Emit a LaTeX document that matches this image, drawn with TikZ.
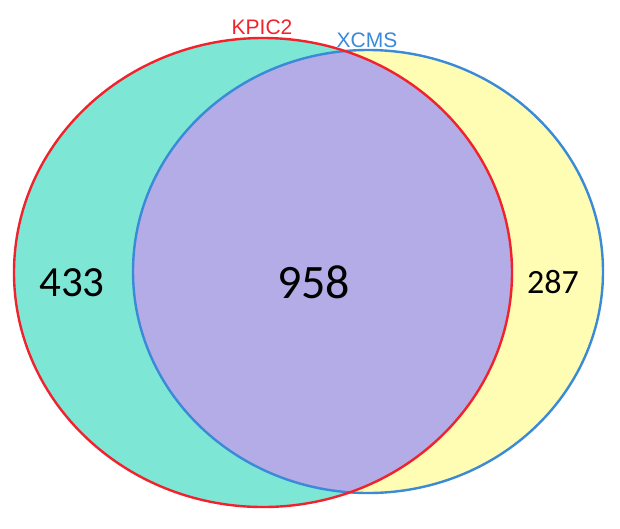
\documentclass[tikz,border=0pt]{standalone}
\usepackage{fontspec}
\setmainfont{Carlito}
\newfontfamily\labfont{Liberation Sans}
\definecolor{tealfill}{HTML}{7DE6D5}
\definecolor{purplefill}{HTML}{B3ACE6}
\definecolor{yellowfill}{HTML}{FFFDB4}
\definecolor{redline}{HTML}{F2222C}
\definecolor{blueline}{HTML}{3A8AD8}
\begin{document}
\begin{tikzpicture}[x=1pt,y=-1pt,
  setlabel/.style={font=\labfont\fontsize{21}{21}\selectfont, inner sep=0pt},
  midnum/.style={font=\fontsize{43}{43}\selectfont, inner sep=0pt},
  bignum/.style={font=\fontsize{48}{48}\selectfont, inner sep=0pt},
  smallnum/.style={font=\fontsize{34}{34}\selectfont, inner sep=0pt}]
\useasboundingbox (0,0) rectangle (620,528);
\coordinate (kc) at (263,272.5);
\coordinate (xc) at (368,271.5);
\fill[tealfill] (kc) ellipse [x radius=249, y radius=234.5];
\fill[yellowfill] (xc) ellipse [x radius=235, y radius=221.5];
\begin{scope}
  \clip (kc) ellipse [x radius=249, y radius=234.5];
  \fill[purplefill] (xc) ellipse [x radius=235, y radius=221.5];
\end{scope}
\draw[blueline, line width=2.4pt] (xc) ellipse [x radius=235, y radius=221.5];
\draw[redline, line width=2.4pt] (kc) ellipse [x radius=249, y radius=234.5];
\node[setlabel, text=redline, anchor=base] (klab) at (262,34) {KPIC2};
\node[setlabel, text=blueline, anchor=base] (xlab) at (367,47) {XCMS};
\node[midnum] (n433) at (72,283) {433};
\node[bignum] (n958) at (313.5,282) {958};
\node[smallnum] (n287) at (553,282) {287};
\end{tikzpicture}
\end{document}
